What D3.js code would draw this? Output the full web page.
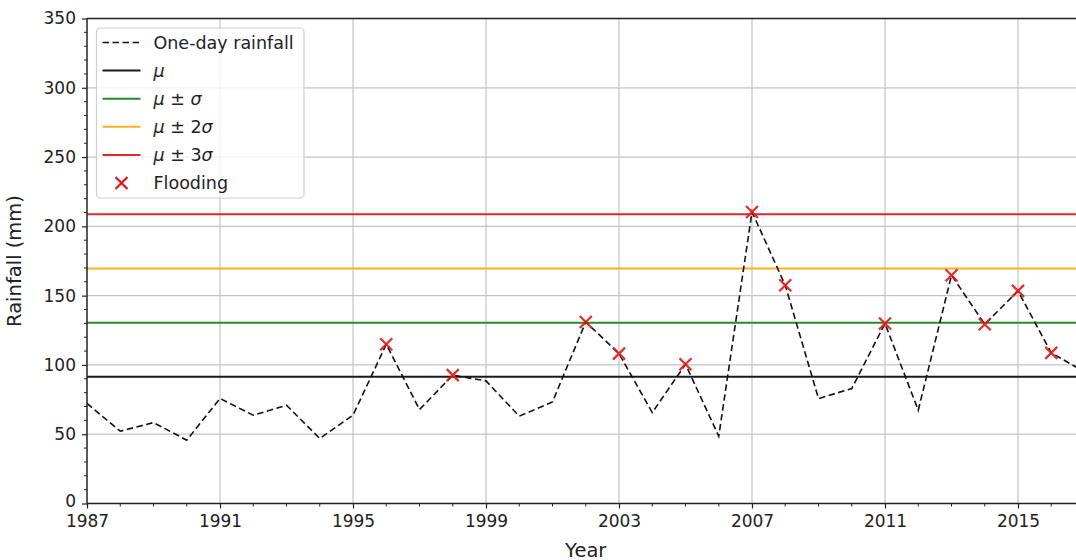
<!DOCTYPE html>
<html>
<head>
<meta charset="utf-8">
<script src="https://cdn.jsdelivr.net/npm/d3@7/dist/d3.min.js"></script>
<style>
  html, body { margin: 0; padding: 0; background: #fff; }
  svg { display: block; font-family: "DejaVu Sans", sans-serif; }
</style>
</head>
<body>
<svg id="chart" width="1076" height="560"></svg>
<script>
// Annual maximum one-day rainfall (mm)
const years = [1987, 1988, 1989, 1990, 1991, 1992, 1993, 1994, 1995, 1996,
               1997, 1998, 1999, 2000, 2001, 2002, 2003, 2004, 2005, 2006,
               2007, 2008, 2009, 2010, 2011, 2012, 2013, 2014, 2015, 2016, 2017];
const rainfall = [72.2, 52.2, 58.4, 45.7, 75.8, 63.7, 70.9, 46.9, 63.7, 114.9,
                  67.8, 92.6, 88.5, 63.0, 73.3, 131.0, 108.2, 65.6, 100.5, 48.6,
                  210.4, 157.5, 75.7, 83.0, 129.9, 67.3, 164.7, 129.4, 153.4, 108.7, 95.0];

// Years with recorded flooding
const floodYears = [1996, 1998, 2002, 2003, 2005, 2007, 2008, 2011, 2013, 2014, 2015, 2016];

// Long-term statistics
const mu = 91.4;
const sigma = 39.1;
const sigmaMultiples = [0, 1, 2, 3];

// Axis ticks
const xTickYears = [1987, 1991, 1995, 1999, 2003, 2007, 2011, 2015];
const yTickValues = [0, 50, 100, 150, 200, 250, 300, 350];

// Legend entries
const legendLabels = ["One-day rainfall", "μ", "μ ± σ", "μ ± 2σ", "μ ± 3σ", "Flooding"];

// ---- layout & style ----
const margin = { left: 87, top: 18.5 };
const plotW = 997.5, plotH = 485;
const bandColors = ["#1a1a1a", "#2a8a2a", "#ffb020", "#e02828"];
const floodColor = "#e01a1a";
const gridColor = "#c4c4c4";
const axisColor = "#222";

const svg = d3.select("#chart");
const g = svg.append("g").attr("transform", `translate(${margin.left},${margin.top})`);

const x = d3.scaleLinear().domain([1987, 2017]).range([0, plotW]);
const y = d3.scaleLinear().domain([0, 350]).range([plotH, 0]);

// clip to plotting area
svg.append("defs").append("clipPath").attr("id", "plotclip")
  .append("rect").attr("x", 0).attr("y", 0).attr("width", plotW).attr("height", plotH);

// grid
const grid = g.append("g");
grid.selectAll("line.gx").data(xTickYears).join("line")
  .attr("x1", d => x(d)).attr("x2", d => x(d))
  .attr("y1", 0).attr("y2", plotH)
  .attr("stroke", gridColor).attr("stroke-width", 1.2);
grid.selectAll("line.gy").data(yTickValues).join("line")
  .attr("x1", 0).attr("x2", plotW)
  .attr("y1", d => y(d)).attr("y2", d => y(d))
  .attr("stroke", gridColor).attr("stroke-width", 1.2);

const plot = g.append("g").attr("clip-path", "url(#plotclip)");

// mean and sigma bands
plot.selectAll("line.band").data(sigmaMultiples).join("line")
  .attr("x1", 0).attr("x2", plotW)
  .attr("y1", k => y(mu + k * sigma)).attr("y2", k => y(mu + k * sigma))
  .attr("stroke", (k, i) => bandColors[i]).attr("stroke-width", 2);

// rainfall series
const line = d3.line().x((d, i) => x(years[i])).y(d => y(d));
plot.append("path").datum(rainfall)
  .attr("d", line)
  .attr("fill", "none")
  .attr("stroke", "#111")
  .attr("stroke-width", 1.6)
  .attr("stroke-dasharray", "6.5,3.5");

// flooding markers
const xMark = (cx, cy, r) => `M${cx - r},${cy - r}L${cx + r},${cy + r}M${cx - r},${cy + r}L${cx + r},${cy - r}`;
plot.selectAll("path.flood").data(floodYears).join("path")
  .attr("d", yr => xMark(x(yr), y(rainfall[years.indexOf(yr)]), 6))
  .attr("stroke", floodColor).attr("stroke-width", 2.3)
  .attr("stroke-opacity", 0.9).attr("fill", "none");

// axes
const fontSize = 17;
const xAxis = d3.axisBottom(x).tickValues(xTickYears).tickFormat(d3.format("d"))
  .tickSize(5).tickPadding(6).tickSizeOuter(0);
const gx = g.append("g").attr("transform", `translate(0,${plotH})`).call(xAxis);
const yAxis = d3.axisLeft(y).tickValues(yTickValues).tickFormat(d3.format("d"))
  .tickSize(5).tickPadding(6).tickSizeOuter(0);
const gy = g.append("g").call(yAxis);

[gx, gy].forEach(a => {
  a.select(".domain").remove();
  a.selectAll(".tick line").attr("stroke", axisColor).attr("stroke-width", 1.2);
  a.selectAll(".tick text").attr("fill", "#222").style("font-size", fontSize + "px")
    .style("font-family", "'DejaVu Sans', sans-serif");
});
// lift the bottom y label slightly so it clears the first year label
gy.selectAll(".tick text").filter(d => d === 0).attr("dy", "0.2em");

// minor ticks
const minorX = d3.range(1987, 2018).filter(v => !xTickYears.includes(v));
g.append("g").selectAll("line").data(minorX).join("line")
  .attr("x1", d => x(d)).attr("x2", d => x(d))
  .attr("y1", plotH).attr("y2", plotH + 3)
  .attr("stroke", axisColor).attr("stroke-width", 1);
const minorY = d3.range(0, 351, 10).filter(v => !yTickValues.includes(v));
g.append("g").selectAll("line").data(minorY).join("line")
  .attr("x1", 0).attr("x2", -3)
  .attr("y1", d => y(d)).attr("y2", d => y(d))
  .attr("stroke", axisColor).attr("stroke-width", 1);

// spines
const spine = g.append("g").attr("stroke", axisColor).attr("stroke-width", 1.4).attr("fill", "none");
spine.append("line").attr("x1", 0).attr("x2", 0).attr("y1", 0).attr("y2", plotH);
spine.append("line").attr("x1", 0).attr("x2", plotW).attr("y1", plotH).attr("y2", plotH);
spine.append("line").attr("x1", 0).attr("x2", plotW).attr("y1", 0).attr("y2", 0);
spine.append("line").attr("x1", plotW).attr("x2", plotW).attr("y1", 0).attr("y2", plotH);

// axis titles
g.append("text").attr("x", plotW / 2).attr("y", plotH + 53)
  .attr("text-anchor", "middle").attr("fill", "#222")
  .style("font-size", "19.5px").text("Year");
g.append("text")
  .attr("transform", `translate(${-66},${plotH / 2}) rotate(-90)`)
  .attr("text-anchor", "middle").attr("fill", "#222")
  .style("font-size", "19.5px").text("Rainfall (mm)");

// legend
const legendFont = 17.5;
const lg = g.append("g").attr("transform", "translate(9.5,9.5)");
lg.append("rect").attr("width", 207.5).attr("height", 170).attr("rx", 4)
  .attr("fill", "#fff").attr("fill-opacity", 0.8)
  .attr("stroke", "#d0d0d0").attr("stroke-width", 1.2);
const rowY = i => 14.5 + i * 28.1;
const hx0 = 6, hx1 = 44, tx = 57;
legendLabels.forEach((lab, i) => {
  const row = lg.append("g").attr("transform", `translate(0,${rowY(i)})`);
  if (i === 0) {
    row.append("line").attr("x1", hx0).attr("x2", hx1).attr("y1", 0).attr("y2", 0)
      .attr("stroke", "#111").attr("stroke-width", 1.6).attr("stroke-dasharray", "6.5,3.5");
  } else if (i <= 4) {
    row.append("line").attr("x1", hx0).attr("x2", hx1).attr("y1", 0).attr("y2", 0)
      .attr("stroke", bandColors[i - 1]).attr("stroke-width", 2);
  } else {
    const c = (hx0 + hx1) / 2;
    row.append("path").attr("d", xMark(c, 0, 6))
      .attr("stroke", floodColor).attr("stroke-width", 2.3).attr("fill", "none");
  }
  const t = row.append("text").attr("x", tx).attr("y", 0).attr("dy", "0.36em")
    .attr("fill", "#222").style("font-size", legendFont + "px");
  // Greek symbols set in italic, operators and digits upright
  const parts = lab.match(/[μσ]|[^μσ]+/g);
  if (i === 0 || i === 5) {
    t.text(lab);
  } else {
    parts.forEach(p => {
      t.append("tspan").style("font-style", /[μσ]/.test(p) ? "italic" : "normal")
        .attr("xml:space", "preserve").text(p);
    });
  }
});
</script>
</body>
</html>
